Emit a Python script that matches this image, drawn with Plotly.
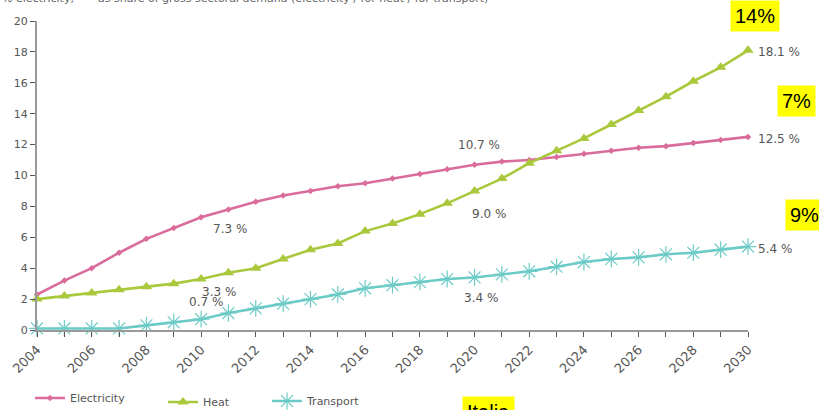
import plotly.graph_objects as go

years = list(range(2004, 2031))
electricity = [2.3, 3.2, 4.0, 5.0, 5.9, 6.6, 7.3, 7.8, 8.3, 8.7, 9.0, 9.3, 9.5, 9.8,
               10.1, 10.4, 10.7, 10.9, 11.0, 11.2, 11.4, 11.6, 11.8, 11.9, 12.1, 12.3, 12.5]
heat = [2.0, 2.2, 2.4, 2.6, 2.8, 3.0, 3.3, 3.7, 4.0, 4.6, 5.2, 5.6, 6.4, 6.9,
        7.5, 8.2, 9.0, 9.8, 10.8, 11.6, 12.4, 13.3, 14.2, 15.1, 16.1, 17.0, 18.1]
transport = [0.1, 0.1, 0.1, 0.1, 0.3, 0.5, 0.7, 1.1, 1.4, 1.7, 2.0, 2.3, 2.7, 2.9,
             3.1, 3.3, 3.4, 3.6, 3.8, 4.1, 4.4, 4.6, 4.7, 4.9, 5.0, 5.2, 5.4]

series_names = ["Electricity", "Heat", "Transport"]
colors = ["#D96C9C", "#A9C83C", "#6CCBC6"]
tick_labels = [str(y) if y % 2 == 0 else "" for y in years]

# in-chart value labels: (year, value, text)
value_labels = [
    (2011.06, 6.54, "7.3 %"),
    (2010.65, 2.46, "3.3 %"),
    (2010.18, 1.81, "0.7 %"),
    (2020.16, 11.97, "10.7 %"),
    (2020.53, 7.51, "9.0 %"),
    (2020.23, 2.07, "3.4 %"),
]
end_labels = ["12.5 %", "18.1 %", "5.4 %"]

font = "DejaVu Sans, Verdana, sans-serif"
W, H = 819, 410
L, R, T, B = 37, 71, 21, 80
pw, ph = W - L - R, H - T - B


def px(xp):
    return (xp - L) / pw


def py(yp):
    return (H - B - yp) / ph


fig = go.Figure()

data = [electricity, heat, transport]
markers = [
    dict(symbol="diamond", size=5),
    dict(symbol="triangle-up", size=10),
    dict(symbol="asterisk-open", size=14, line=dict(width=1.2, color=colors[2])),
]
legends = ["legend", "legend2", "legend3"]
for name, vals, col, mk, lg in zip(series_names, data, colors, markers, legends):
    mk = dict(mk)
    mk["color"] = col
    fig.add_trace(go.Scatter(
        x=years, y=vals, name=name, mode="lines+markers",
        line=dict(color=col, width=2.6), marker=mk,
        cliponaxis=False, legend=lg,
    ))

ann = []
for x, y, t in value_labels:
    ann.append(dict(x=x, y=y, xref="x", yref="y", text=t, showarrow=False,
                    xanchor="center", yanchor="middle",
                    font=dict(family=font, size=12, color="#555555")))
for vals, t in zip(data, end_labels):
    ann.append(dict(x=2030, y=vals[-1], xref="x", yref="y", text=t, showarrow=False,
                    xanchor="left", yanchor="middle", xshift=8, yshift=-2,
                    font=dict(family=font, size=12, color="#555555")))

# yellow target boxes
box_font = dict(family="Liberation Sans, Arial, sans-serif", size=20, color="#000000")
for text, cx, cy in [("14%", 755, 16), ("7%", 797, 101), ("9%", 805, 215), ("Italia", 488, 412)]:
    ann.append(dict(x=px(cx), y=py(cy), xref="paper", yref="paper", text=text,
                    xanchor="center", yanchor="middle", showarrow=False,
                    bgcolor="#FFFF00", font=box_font, borderpad=4))

# chart heading, partly above the page
ann.append(dict(x=px(0), y=py(-2), xref="paper", yref="paper", xanchor="left", yanchor="middle",
                text="% electricity,    ─ as share of gross sectoral demand (electricity / for heat / for transport)",
                showarrow=False, font=dict(family=font, size=11, color="#666666")))

legend_common = dict(xref="container", yref="container", xanchor="left", yanchor="middle",
                     orientation="h", font=dict(family=font, size=11, color="#555555"),
                     bgcolor="rgba(0,0,0,0)")

fig.update_layout(
    width=W, height=H,
    margin=dict(l=L, r=R, t=T, b=B, autoexpand=False),
    paper_bgcolor="white", plot_bgcolor="white",
    showlegend=True,
    annotations=ann,
    font=dict(family=font, color="#555555"),
    xaxis=dict(range=[2004, 2030], tickvals=years, ticktext=tick_labels, automargin=False,
               tickangle=-45, ticks="outside", ticklen=5, tickcolor="#555555",
               showline=True, linecolor="#999999", linewidth=2, showgrid=False,
               zeroline=False, tickfont=dict(family=font, size=13, color="#555555")),
    yaxis=dict(range=[0, 20], dtick=2, ticks="outside", ticklen=5, tickcolor="#555555",
               automargin=False,
               showline=True, linecolor="#999999", linewidth=2, showgrid=False,
               zeroline=False, tickfont=dict(family=font, size=11, color="#555555")),
    legend=dict(x=30 / W, y=1 - 398 / H, **legend_common),
    legend2=dict(x=163 / W, y=1 - 402 / H, **legend_common),
    legend3=dict(x=267 / W, y=1 - 401 / H, **legend_common),
)

fig.write_html("out.html")
